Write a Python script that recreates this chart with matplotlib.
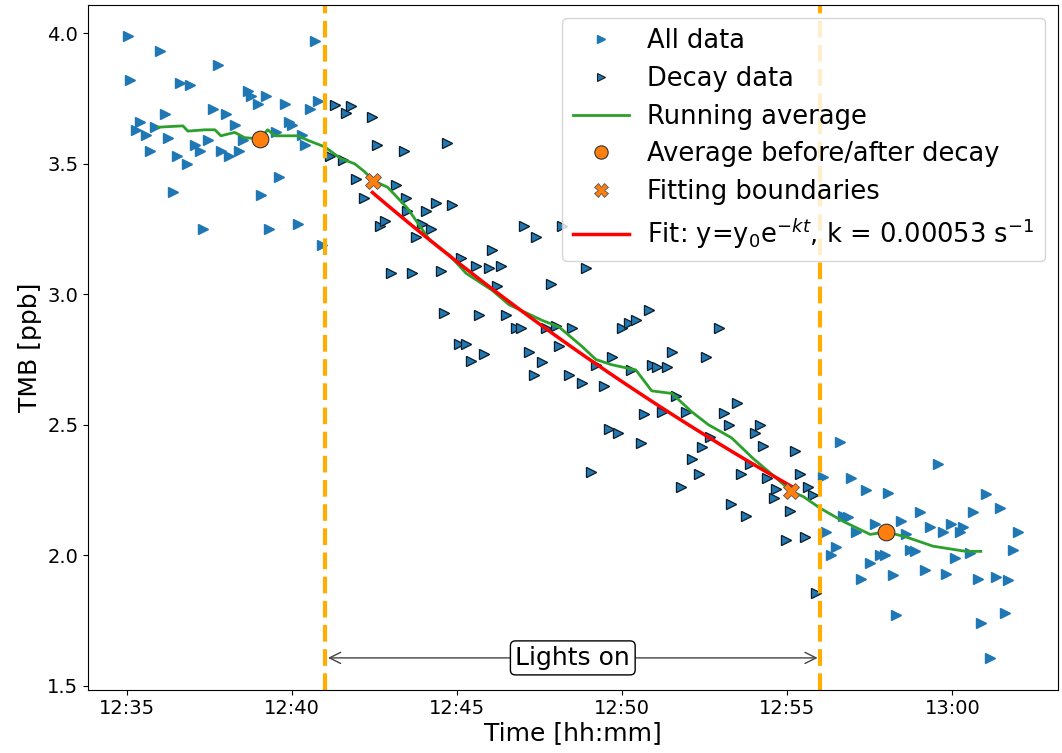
import numpy as np
import pandas as pd
import matplotlib
matplotlib.use("Agg")
import matplotlib.pyplot as plt
import matplotlib.dates as mdates

# minutes after 12:00, TMB [ppb]
t_before = [35.03, 36.0, 37.75, 35.1, 36.6, 36.9, 38.65, 38.75, 39.2, 38.95,
            39.77, 40.7, 40.77, 40.55, 36.15, 37.6, 38.0, 35.4, 35.27, 35.85,
            35.57, 36.24, 38.26, 35.7, 36.5, 36.8, 37.05, 37.2, 37.45, 37.84,
            38.1, 38.4, 38.5, 39.9, 40.0, 39.5, 40.3, 40.4, 39.6, 39.05,
            36.4, 37.3, 39.3, 40.17, 40.9]
y_before = [3.99, 3.93, 3.88, 3.82, 3.81, 3.80, 3.78, 3.76, 3.76, 3.73,
            3.73, 3.97, 3.74, 3.71, 3.69, 3.71, 3.69, 3.66, 3.63, 3.64,
            3.61, 3.60, 3.65, 3.55, 3.53, 3.50, 3.57, 3.55, 3.59, 3.55,
            3.53, 3.55, 3.59, 3.66, 3.65, 3.62, 3.61, 3.57, 3.45, 3.38,
            3.39, 3.25, 3.25, 3.27, 3.19]

t_decay = [41.31, 41.62, 41.77, 42.43, 41.16, 41.53, 42.58, 43.4, 41.92, 42.19,
           43.13, 42.67, 42.82, 42.98, 43.49, 43.45,
           44.7, 44.06, 44.37, 44.85, 43.94, 44.21, 43.76, 43.64, 44.52, 45.12,
           45.57, 45.97, 46.33, 46.06, 46.21, 47.02, 47.39, 47.84, 44.61, 45.66,
           46.48, 46.78, 46.93, 47.69, 47.99, 48.47, 45.06, 45.27, 48.9, 49.98,
           50.2, 50.41, 50.8, 52.92, 48.17, 48.08,
           45.42, 45.82, 47.18, 47.57, 47.33, 48.38, 48.78, 49.44, 49.2, 49.68,
           50.26, 50.89, 51.04, 51.34, 51.5, 52.55, 49.59, 49.86, 50.56, 50.65,
           51.19, 51.62, 51.92, 49.05, 53.07, 53.22, 52.67, 52.4, 52.1, 52.31,
           51.77, 53.28,
           53.46, 54.18, 54.03, 54.27, 55.24, 53.88, 53.61, 54.37, 55.39, 54.67,
           54.58, 55.09, 55.63, 55.79, 53.76, 54.97, 55.54, 55.88]
y_decay = [3.725, 3.695, 3.72, 3.68, 3.53, 3.515, 3.57, 3.55, 3.44, 3.37,
           3.42, 3.26, 3.28, 3.08, 3.32, 3.37,
           3.58, 3.32, 3.35, 3.34, 3.27, 3.25, 3.22, 3.08, 3.09, 3.14,
           3.11, 3.10, 3.11, 3.17, 3.03, 3.26, 3.22, 3.04, 2.93, 2.92,
           2.92, 2.87, 2.87, 2.87, 2.88, 2.87, 2.81, 2.81, 3.10, 2.87,
           2.89, 2.90, 2.94, 2.87, 3.26, 2.80,
           2.744, 2.77, 2.78, 2.74, 2.69, 2.69, 2.66, 2.65, 2.73, 2.76,
           2.71, 2.73, 2.72, 2.72, 2.78, 2.76, 2.485, 2.47, 2.43, 2.54,
           2.55, 2.61, 2.55, 2.32, 2.545, 2.50, 2.455, 2.415, 2.37, 2.31,
           2.26, 2.195,
           2.585, 2.50, 2.47, 2.42, 2.40, 2.35, 2.31, 2.295, 2.31, 2.255,
           2.22, 2.17, 2.26, 2.23, 2.15, 2.06, 2.07, 1.855]

t_after = [56.6, 56.09, 59.56, 56.93, 57.39, 58.05, 61.01, 61.43, 60.62, 59.02,
           56.69, 56.84, 56.18, 57.66, 58.44, 59.32, 59.95, 60.32, 59.71, 60.23,
           61.98, 57.08, 58.6, 56.48, 56.33, 58.72, 58.87, 57.81, 57.96, 60.08,
           60.53, 61.83, 57.51, 58.2, 59.17, 59.8, 57.24, 60.77, 61.31, 61.68,
           58.29, 61.59, 60.86, 61.13]
y_after = [2.435, 2.30, 2.35, 2.295, 2.25, 2.24, 2.235, 2.18, 2.165, 2.165,
           2.15, 2.145, 2.09, 2.12, 2.13, 2.11, 2.12, 2.11, 2.09, 2.09,
           2.09, 2.09, 2.08, 2.03, 2.00, 2.02, 2.015, 2.00, 2.00, 1.99,
           2.01, 2.02, 1.97, 1.925, 1.945, 1.93, 1.91, 1.91, 1.915, 1.905,
           1.77, 1.78, 1.74, 1.605]

t_avg = [35.94, 36.69, 36.84, 37.36, 37.66, 37.84, 38.26, 38.56, 39.02, 39.26,
         39.47, 40.17, 40.47, 40.98, 41.47, 41.89, 42.19, 42.46, 42.89, 43.49,
         44.15, 44.76, 45.27, 46.06, 46.57, 47.57, 48.08, 48.78, 49.2, 49.68,
         50.41, 50.89, 51.5, 52.1, 52.61, 53.31, 53.97, 54.58, 55.12, 55.48,
         56.0, 56.69, 57.51, 57.99, 58.6, 59.41, 60.41, 60.86]
y_avg = [3.64, 3.645, 3.625, 3.63, 3.63, 3.607, 3.62, 3.60, 3.595, 3.63,
         3.607, 3.607, 3.59, 3.565, 3.52, 3.50, 3.47, 3.435, 3.41, 3.33,
         3.21, 3.15, 3.08, 3.015, 2.96, 2.90, 2.875, 2.80, 2.75, 2.73,
         2.71, 2.63, 2.62, 2.55, 2.50, 2.45, 2.37, 2.305, 2.245, 2.225,
         2.18, 2.13, 2.08, 2.09, 2.07, 2.035, 2.015, 2.015]

t_mean = [39.02, 57.99]
y_mean = [3.595, 2.09]
t_bound = [42.46, 55.12]
y_bound = [3.435, 2.245]

lights_on = [41.0, 56.0]
k = 0.00053      # s^-1
y0 = 3.39
t_fit_start, t_fit_end = 42.43, 55.12

base = pd.Timestamp("2021-01-01 12:00")


def to_time(m):
    return base + pd.to_timedelta(np.asarray(m, dtype=float), unit="min")


t_all = t_before + t_decay + t_after
y_all = y_before + y_decay + y_after

t_fit = np.linspace(t_fit_start, t_fit_end, 100)
y_fit = y0 * np.exp(-k * (t_fit - t_fit_start) * 60)

fig, ax = plt.subplots(figsize=(10.62, 7.53), dpi=100)
fig.subplots_adjust(left=0.083, right=0.996, top=0.993, bottom=0.084)

ax.plot(to_time(t_all), y_all, ls="", marker=">", ms=7, color="tab:blue",
        mec="tab:blue", label="All data")
ax.plot(to_time(t_decay), y_decay, ls="", marker=">", ms=7, color="tab:blue",
        mec="#1a1a1a", mew=0.8, label="Decay data")
ax.plot(to_time(t_avg), y_avg, color="tab:green", lw=2, label="Running average")
ax.plot(to_time(t_mean), y_mean, ls="", marker="o", ms=12, color="tab:orange",
        mec="#333333", mew=0.8, label="Average before/after decay", zorder=5)
ax.plot(to_time(t_bound), y_bound, ls="", marker="X", ms=12, color="tab:orange",
        mec="#555555", mew=0.6, label="Fitting boundaries", zorder=5)
ax.plot(to_time(t_fit), y_fit, color="red", lw=2.5,
        label=r"Fit: y=y$_0$e$^{-kt}$, k = 0.00053 s$^{-1}$")

for tl in lights_on:
    ax.axvline(to_time(tl), color="#ffad00", ls="--", lw=3, dashes=(4, 1.8))

x1 = mdates.date2num(to_time(lights_on[0]))
x2 = mdates.date2num(to_time(lights_on[1]))
ax.annotate("", xy=(x1, 1.607), xytext=(x2, 1.607),
            arrowprops=dict(arrowstyle="<->", color="#444444", lw=1, mutation_scale=20))
ax.text((x1 + x2) / 2, 1.607, "Lights on", ha="center", va="center", fontsize=18,
        bbox=dict(boxstyle="round,pad=0.2", fc="white", ec="black"))

ax.set_xlim(to_time(33.82), to_time(63.19))
ax.set_ylim(1.485, 4.107)
ax.xaxis.set_major_locator(mdates.MinuteLocator(byminute=range(0, 60, 5)))
ax.xaxis.set_major_formatter(mdates.DateFormatter("%H:%M"))
ax.set_yticks([1.5, 2.0, 2.5, 3.0, 3.5, 4.0])
ax.tick_params(labelsize=14)
ax.set_xlabel("Time [hh:mm]", fontsize=18, labelpad=2)
ax.set_ylabel("TMB [ppb]", fontsize=18)
ax.legend(loc="upper right", fontsize=18.5, markerscale=0.8, borderaxespad=0.5,
          handletextpad=0.7, labelspacing=0.45, handlelength=2.2)

fig.savefig("out.png")
